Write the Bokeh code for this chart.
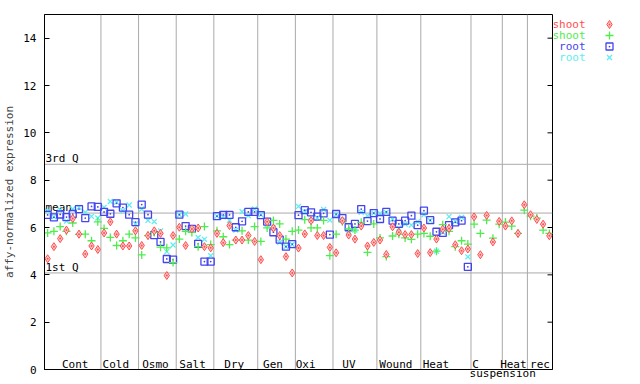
from math import pi
from bokeh.plotting import figure
from bokeh.models import Range1d, FixedTicker, Span, LinearAxis
from bokeh.layouts import row
from bokeh.embed import file_html
from bokeh.resources import INLINE
from bokeh.core.properties import value

# ---------------- data ----------------
groups = ["Cont", "Cold", "Osmo", "Salt", "Dry", "Gen", "Oxi", "UV", "Wound",
          "Heat", "C", "Heat", "rec"]
group_sizes = [9, 6, 6, 6, 7, 6, 6, 7, 7, 8, 5, 4, 4]
label_shift_px = [2.5, -4, -2, -2.5, -1.5, -3.5, -8.5, -6, -3, -10, -11, -1.5, 0]
second_line = {"C": "suspension"}

shoot_rep1 = [4.68, 5.19, 5.53, 5.89, 6.38, 5.72, 4.88, 5.22, 5.07,
              5.77, 6.24, 5.72, 5.22, 5.22, 5.86,
              5.24, 5.66, 5.86, 5.75, 3.97, 5.66,
              6.01, 5.24, 5.94, 5.98, 5.19, 5.14,
              5.75, 5.36, 6.08, 5.47, 5.47, 5.66, 5.41,
              4.64, 6.24, 5.98, 5.66, 4.77, 4.08,
              5.13, 5.73, 6.29, 5.66, 5.66, 5.16,
              4.93, 6.29, 5.68, 5.51, 6.06, 5.22, 5.37,
              5.47, 4.86, 6.03, 5.80, 5.70, 5.70, 4.90,
              5.98, 4.94, 5.51, 5.93, 5.96, 5.27, 5.02, 5.09,
              6.45, 4.85, 6.51, 5.39, 6.26,
              6.06, 6.28, 5.75, 6.96,
              6.54, 6.34, 6.14, 5.65]
shoot_rep2 = [5.77, 5.84, 6.04, 5.84, 6.19, 5.71, 5.72, 5.44, 6.24,
              5.96, 5.58, 5.24, 5.44, 5.72, 5.56,
              4.84, 5.66, 5.79, 5.17, 5.14, 4.52,
              5.51, 5.84, 5.79, 5.19, 6.04, 5.28,
              5.86, 5.61, 5.28, 5.47, 5.86, 5.47, 6.04,
              5.41, 5.98, 6.30, 6.15, 5.51, 5.84,
              5.89, 6.33, 5.98, 5.98, 6.30, 4.81,
              5.72, 6.24, 5.94, 5.89, 6.22, 4.95, 6.15,
              5.56, 4.77, 5.64, 5.72, 5.56, 5.50, 5.72,
              5.75, 5.63, 5.00, 6.12, 5.84, 5.19, 5.44, 5.30,
              6.14, 5.75, 6.31, 5.55, 6.14,
              6.23, 6.06, 5.75, 6.73,
              6.48, 6.40, 5.89, 5.75]
root_rep1 = [6.53, 6.43, 6.55, 6.44, 6.57, 6.78, 6.40, 6.89, 6.87,
             6.66, 6.58, 7.02, 6.84, 6.54, 6.23,
             6.97, 6.54, 5.68, 5.39, 4.67, 4.64,
             6.54, 6.06, 5.94, 5.31, 4.56, 4.56,
             6.48, 6.53, 6.53, 6.01, 6.26, 6.66, 6.66,
             6.52, 6.25, 5.80, 5.49, 5.19, 5.30,
             6.52, 6.73, 6.64, 6.46, 6.60, 5.70,
             6.57, 6.40, 6.01, 6.15, 6.78, 6.27, 6.61,
             6.36, 6.66, 6.29, 6.15, 6.29, 6.50, 6.10,
             6.71, 6.31, 5.82, 5.77, 6.10, 6.22, 6.29, 4.34]
root_rep2 = [6.70, 6.45, 6.74, 6.27, 6.78, 6.85, 6.64, 6.47, 6.40,
             6.85, 7.10, 7.07, 6.71, 6.95, 6.15,
             6.78, 6.30, 6.25, 5.86, 4.98, 5.26,
             6.54, 6.57, 5.90, 5.58, 5.50, 4.81,
             6.48, 6.45, 6.30, 5.89, 6.67, 6.50, 6.78,
             6.54, 6.12, 5.98, 5.37, 5.19, 5.28,
             6.89, 6.67, 6.31, 6.40, 6.76, 6.31,
             6.54, 6.29, 5.84, 5.89, 6.64, 6.50, 6.61,
             6.59, 6.64, 6.35, 5.97, 6.15, 6.10, 6.25,
             6.54, 6.29, 5.00, 5.80, 6.46, 6.26, 6.43, 4.76]

q1_value, mean_value, q3_value = 4.08, 6.61, 8.67
y_ticks = [0, 2, 4, 6, 8, 10, 12, 14]

series_names = ["shoot", "shoot", "root", "root"]
RED, GREEN, BLUE, CYAN = "#ff4d4d", "#4ded4d", "#4444ee", "#5eeeee"
FONT = "DejaVu Sans Mono"

# ---------------- main plot ----------------
n = sum(group_sizes)
FRAME_W = 508
TOP, BOTTOM, H = 14, 15, 384
p = figure(width=553, height=H, x_range=Range1d(0, n), y_range=Range1d(0, 15),
           toolbar_location=None, output_backend="svg", x_axis_location=None,
           min_border_left=44, min_border_right=1, min_border_top=TOP,
           min_border_bottom=BOTTOM,
           background_fill_color="white", border_fill_color="white")
p.title = None
p.outline_line_color = "black"
p.outline_line_width = 1
p.grid.visible = False

ax = p.yaxis[0]
ax.ticker = FixedTicker(ticks=y_ticks)
ax.major_tick_in = 5
ax.major_tick_out = 0
ax.minor_tick_line_color = None
ax.axis_line_color = "black"
ax.major_label_standoff = 8
ax.major_label_text_font = FONT
ax.major_label_text_font_size = "11px"
ax.major_label_text_color = "black"
ax.axis_label = "affy-normalized expression"
ax.axis_label_text_font = FONT
ax.axis_label_text_font_size = "11px"
ax.axis_label_text_font_style = "normal"
ax.axis_label_standoff = 4

# right-side inward ticks
p.ray(x=[n] * len(y_ticks), y=y_ticks, length=5, length_units="screen",
      angle=pi, line_color="black", line_width=1)

GRAY = "#aaaaaa"
for q in (q1_value, mean_value, q3_value):
    p.add_layout(Span(location=q, dimension="width", line_color=GRAY,
                      line_width=1, level="underlay"))
bounds = []
acc = 0
for s in group_sizes[:-1]:
    acc += s
    bounds.append(acc)
for b in bounds:
    p.add_layout(Span(location=b, dimension="height", line_color=GRAY,
                      line_width=1, level="underlay"))

p.text(x=[0, 0, 0], y=[q3_value, mean_value, q1_value],
       text=["3rd Q", "mean", "1st Q"], text_font=value(FONT),
       text_font_size="11px", text_color="black", text_baseline="bottom",
       text_align="left", x_offset=1, y_offset=1)

xs_shoot = [i + 0.5 for i in range(len(shoot_rep1))]
xs_root = [i + 0.5 for i in range(len(root_rep1))]

p.scatter(xs_root, root_rep2, marker="x", size=7, line_color=CYAN, line_width=1.3)
p.scatter(xs_root, root_rep1, marker="square_dot", size=7, line_color=BLUE,
          fill_color=None, line_width=1.3)
p.scatter(xs_shoot, shoot_rep2, marker="cross", size=8, line_color=GREEN, line_width=1.3)
p.scatter(xs_shoot, shoot_rep1, marker="diamond_dot", size=8, line_color=RED,
          fill_color="#ffc8c8", line_width=1)

# group labels (inside the frame, just above the bottom border)
px_per_unit = FRAME_W / n
bottom_ticks = []
bottom_text = {}
start = 0
for name, size, shift in zip(groups, group_sizes, label_shift_px):
    c = start + size / 2
    p.text(x=[c], y=[0], text=[name], x_offset=shift, y_offset=-5,
           text_font=value(FONT), text_font_size="11px", text_color="black",
           text_align="center", text_baseline="middle")
    if name in second_line:
        t = c + 16 / px_per_unit
        bottom_ticks.append(t)
        bottom_text[t] = second_line[name]
    start += size

xax = LinearAxis(ticker=FixedTicker(ticks=bottom_ticks),
                 major_label_overrides=bottom_text,
                 major_tick_in=0, major_tick_out=0, minor_tick_line_color=None,
                 axis_line_color="black", major_label_standoff=-3,
                 major_label_text_font=FONT, major_label_text_font_size="11px",
                 major_label_text_color="black")
p.add_layout(xax, "below")

# ---------------- legend panel ----------------
# (its frame is aligned with the main frame by the row layout, so its y range
#  is expressed in page pixels from the top of the figure)
leg = figure(width=87, height=H, x_range=Range1d(0, 87),
             y_range=Range1d(H - BOTTOM, TOP),
             toolbar_location=None, output_backend="svg", x_axis_location=None,
             y_axis_location=None, min_border_left=0, min_border_right=0,
             min_border_top=TOP, min_border_bottom=BOTTOM, outline_line_color=None,
             background_fill_color="white", border_fill_color="white")
leg.title = None
leg.grid.visible = False
ly = [24, 35, 46, 57]
leg.text(x=[32] * 4, y=ly, text=series_names, text_color=[RED, GREEN, BLUE, CYAN],
         text_font=value(FONT), text_font_size="11px", text_align="right",
         text_baseline="middle")
leg.scatter([56], [ly[0]], marker="diamond_dot", size=8, line_color=RED, fill_color="#ffc8c8")
leg.scatter([56], [ly[1]], marker="cross", size=8, line_color=GREEN, line_width=1.3)
leg.scatter([56], [ly[2]], marker="square_dot", size=7, line_color=BLUE, fill_color=None, line_width=1.3)
leg.scatter([56], [ly[3]], marker="x", size=7, line_color=CYAN, line_width=1.3)

layout = row(p, leg)
open("out.html", "w").write(file_html(layout, INLINE))
